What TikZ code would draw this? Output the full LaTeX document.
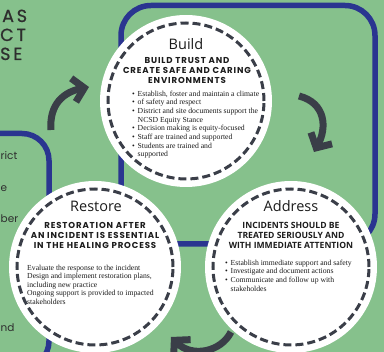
\documentclass[tikz,border=0pt]{standalone}
\usepackage{fontspec}
\usetikzlibrary{arrows.meta}
\setmainfont{Liberation Serif}
\newfontfamily\titlefont{Open Sans}
\newfontfamily\headfont{Poppins}[LetterSpace=10]
\newfontfamily\addrfont{Open Sans}
\newfontfamily\sidefont{Poppins}
\newfontfamily\bigsidefont{Poppins}[LetterSpace=16, FakeBold=0.8]
\definecolor{bg}{HTML}{86C18C}
\definecolor{navy}{HTML}{2A3590}
\definecolor{slate}{HTML}{3A3E48}
\definecolor{ink}{HTML}{1C1C1C}
\definecolor{darktext}{HTML}{2E2E2E}
\newcommand\bitem[1]{\makebox[5.5pt][l]{\textbullet}#1}
\newcommand\contline[1]{\hspace*{5.5pt}#1}
\tikzset{
  whitedisc/.style={circle, fill=white, minimum size=172pt, inner sep=0pt},
  dashring/.style={circle, draw=slate, line width=3pt, dash pattern=on 8pt off 4pt, minimum size=156pt, inner sep=0pt},
  circtitle/.style={font=\titlefont\fontsize{14.5}{16}\selectfont, text=ink, inner sep=0pt},
  headtext/.style={font=\headfont\bfseries\fontsize{8.6}{10}\selectfont, align=center, inner sep=0pt, text=ink},
  addrhead/.style={font=\addrfont\bfseries\fontsize{8.6}{10}\selectfont, align=center, inner sep=0pt, text=ink},
  bodytext/.style={font=\fontsize{7.7}{8.65}\selectfont, align=left, inner sep=0pt, text=ink},
  flowarrow/.style={draw=slate, line width=7pt, -{Straight Barb[length=11pt,width=24pt]}},
  navyframe/.style={draw=navy, line width=5.5pt},
  sidetext/.style={font=\sidefont\fontsize{10.5}{13}\selectfont, inner sep=0pt, text=darktext},
  bigside/.style={font=\bigsidefont\fontsize{17.5}{19}\selectfont, inner sep=0pt, text=darktext},
}
\begin{document}
\begin{tikzpicture}[x=1pt,y=-1pt]
\useasboundingbox (0,0) rectangle (384,352);
\fill[bg] (0,0) rectangle (384,352);
\begin{scope}
\clip (0,0) rectangle (384,352);
% frames
\draw[navyframe, rounded corners=30pt] (121,5.5) rectangle (375,244);
\draw[navyframe, rounded corners=27pt] (-30,133.5) -- (49,133.5) -- (49,368) -- (-30,368);
% arrows
\coordinate (a1s) at (51,130);
\coordinate (a1e) at (89,87);
\coordinate (a2s) at (299,96);
\coordinate (a2e) at (314,152);
\coordinate (a3s) at (231,332);
\coordinate (a3e) at (171,337);
\draw[flowarrow] (a1s) .. controls (49,104) and (64,92) .. (a1e);
\draw[flowarrow] (a2s) .. controls (326,103) and (327,128) .. (a2e);
\draw[flowarrow] (a3s) .. controls (221,352) and (192,358) .. (a3e);
% side texts
\node[bigside, anchor=base west] (t1) at (2,22) {AS};
\node[bigside, anchor=base west] (t2) at (0,41) {CT};
\node[bigside, anchor=base west] (t3) at (0,60) {SE};
\node[sidetext, anchor=base west] (s1) at (0.5,160) {rict};
\node[sidetext, anchor=base west] (s2) at (0.5,192) {e};
\node[sidetext, anchor=base west] (s3) at (0.5,223) {ber};
\node[sidetext, anchor=base west] (s4) at (0.5,332) {nd};
% circles
\node[whitedisc] (build) at (186,101) {};
\node[whitedisc] (restore) at (95,267) {};
\node[whitedisc] (address) at (291,267) {};
% Build texts
\node[circtitle, anchor=base] (buildtitle) at (186,50) {Build};
\node[headtext, anchor=north] (buildhead) at (187,57) {BUILD TRUST AND\\CREATE SAFE AND CARING\\ENVIRONMENTS};
\node[bodytext, anchor=north west] (buildbody) at (132,90.5) {\bitem{Establish, foster and maintain a climate}\\
\bitem{of safety and respect}\\
\bitem{District and site documents support the}\\
\contline{NCSD Equity Stance}\\
\bitem{Decision making is equity-focused}\\
\bitem{Staff are trained and supported}\\
\bitem{Students are trained and}\\
\contline{supported}};
% Restore texts
\node[circtitle, anchor=base] (restoretitle) at (96,212) {Restore};
\node[headtext, anchor=north] (restorehead) at (95,222) {RESTORATION AFTER\\AN INCIDENT IS ESSENTIAL\\IN THE HEALING PROCESS};
\node[bodytext, anchor=north west] (restorebody) at (27,264.5) {Evaluate the response to the incident\\
Design and implement restoration plans,\\
including new practice\\
Ongoing support is provided to impacted\\
stakeholders};
% Address texts
\node[circtitle, anchor=base] (addresstitle) at (291,212) {Address};
\node[addrhead, anchor=north] (addresshead) at (291,222) {INCIDENTS SHOULD BE\\TREATED SERIOUSLY AND\\WITH IMMEDIATE ATTENTION};
\node[bodytext, anchor=north west] (addressbody) at (225,259.5) {\bitem{Establish immediate support and safety}\\
\bitem{Investigate and document actions}\\
\bitem{Communicate and follow up with}\\
\contline{stakeholdes}};
% dashed rings on top
\node[dashring] (buildring) at (build.center) {};
\node[dashring] (restorering) at (restore.center) {};
\node[dashring] (addressring) at (address.center) {};
\end{scope}
\end{tikzpicture}
\end{document}
